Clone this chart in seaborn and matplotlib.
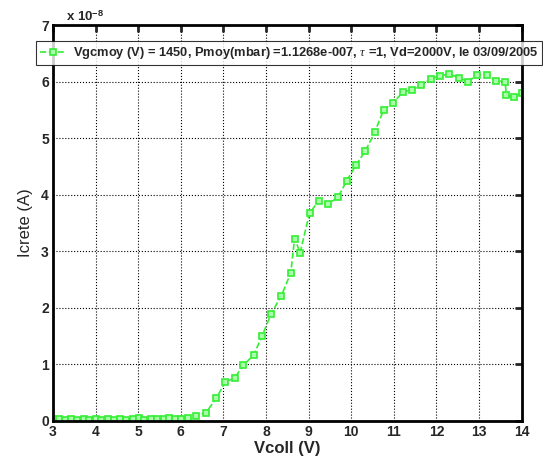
import numpy as np
import pandas as pd
import matplotlib
matplotlib.use('Agg')
import matplotlib.pyplot as plt
import seaborn as sns

# data (Icrete in units of 1e-8 A)
vcoll = [3.00, 3.14, 3.27, 3.43, 3.57, 3.73, 3.85, 4.00, 4.13, 4.28, 4.44, 4.58,
         4.71, 4.87, 5.02, 5.14, 5.30, 5.45, 5.60, 5.73, 5.87, 6.00, 6.16, 6.36,
         6.59, 6.83, 7.04, 7.26, 7.47, 7.71, 7.91, 8.12, 8.36, 8.58, 8.67, 8.80,
         9.02, 9.24, 9.45, 9.69, 9.89, 10.11, 10.33, 10.55, 10.76, 10.98, 11.22,
         11.43, 11.64, 11.86, 12.08, 12.29, 12.53, 12.73, 12.96, 13.18, 13.40,
         13.61, 13.64, 13.82, 14.00]
icrete = [0.02, 0.02, 0.01, 0.02, 0.01, 0.02, 0.01, 0.02, 0.01, 0.02, 0.01, 0.02,
          0.01, 0.02, 0.04, 0.01, 0.03, 0.02, 0.03, 0.04, 0.03, 0.03, 0.05, 0.08,
          0.14, 0.39, 0.68, 0.75, 0.98, 1.16, 1.50, 1.89, 2.21, 2.61, 3.22, 2.97,
          3.67, 3.89, 3.83, 3.95, 4.24, 4.52, 4.77, 5.10, 5.50, 5.62, 5.82,
          5.85, 5.94, 6.04, 6.10, 6.13, 6.07, 6.00, 6.11, 6.11, 6.01,
          6.00, 5.76, 5.72, 5.80]
legend_label = r'Vgcmoy (V) = 1450, Pmoy(mbar) =1.1268e-007, $\tau$ =1, Vd=2000V, le 03/09/2005'

df = pd.DataFrame({'Vcoll': vcoll, 'Icrete': icrete})

sns.set_style('white')
plt.rcParams['font.family'] = ['Liberation Sans', 'DejaVu Sans']
plt.rcParams['mathtext.fontset'] = 'custom'
plt.rcParams['mathtext.rm'] = 'Liberation Serif'
plt.rcParams['mathtext.it'] = 'Liberation Serif:italic'
plt.rcParams['mathtext.bf'] = 'Liberation Sans:bold'

fig = plt.figure(figsize=(5.43, 4.59), dpi=100)
ax = fig.add_axes([53 / 543, 1 - 420.5 / 459, (521.7 - 53) / 543, (420.5 - 25) / 459])

green = '#33ee33'
sns.lineplot(data=df, x='Vcoll', y='Icrete', ax=ax, sort=False, errorbar=None,
             color=green, linestyle='--', linewidth=1.2, marker='s',
             markersize=4.5, markerfacecolor='#aaffaa', markeredgecolor=green,
             markeredgewidth=1.2, label=legend_label)

ax.set_xlim(3, 14)
ax.set_ylim(0, 7)
ax.set_xticks(range(3, 15))
ax.set_yticks(range(0, 8))
ax.grid(True, color='black', linestyle=':', linewidth=0.8)
for s in ax.spines.values():
    s.set_linewidth(2)
    s.set_color('black')
ax.tick_params(direction='in', length=5, width=2, top=True, right=True,
               labelsize=10, pad=3)
for lab in ax.get_xticklabels() + ax.get_yticklabels():
    lab.set_fontweight('bold')

ax.set_xlabel('Vcoll (V)', fontsize=12, fontweight='bold', labelpad=2)
ax.set_ylabel('Icrete (A)', fontsize=12, labelpad=6)
fig.text(66 / 543, 1 - 17 / 459, r'x 10$^{\mathbf{-8}}$', fontsize=9.5,
         fontweight='bold', va='center', ha='left')

leg = ax.legend(loc='upper left', bbox_to_anchor=(30 / 543, 1 - 35 / 459),
                bbox_transform=fig.transFigure, frameon=True, fancybox=False,
                borderpad=0.3, handlelength=2.0, handletextpad=0.5,
                prop={'weight': 'bold', 'size': 9.3})
leg.get_frame().set_edgecolor('black')
leg.get_frame().set_linewidth(0.8)

fig.savefig('out.png', dpi=100)
